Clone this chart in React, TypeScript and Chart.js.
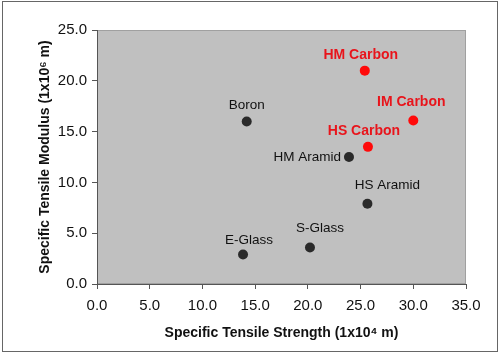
import React, { useEffect, useRef } from "react";
import { Chart, registerables } from "chart.js";

Chart.register(...registerables);

const materials = ["HM Carbon", "IM Carbon", "HS Carbon", "HM Aramid", "Boron", "HS Aramid", "S-Glass", "E-Glass"];
const strength = [25.4, 30.0, 25.7, 23.9, 14.2, 25.65, 20.2, 13.85];
const modulus = [21.0, 16.1, 13.5, 12.5, 16.0, 7.9, 3.6, 2.9];
const isCarbon = [true, true, true, false, false, false, false, false];
// label placement relative to the point (px): [dx, dy, align]
const labelPlacement: [number, number, CanvasTextAlign][] = [
  [-4, -15, "center"],
  [-2, -18, "center"],
  [-4, -16, "center"],
  [-8, 0, "right"],
  [0, -16, "center"],
  [20, -18, "center"],
  [10, -19, "center"],
  [6, -14, "center"],
];
const xTicksMax = 35;
const yTicksMax = 25;

const RED = "#e8141b";
const DARK = "#2a2a2a";
const FAMILY = "Arial, 'Liberation Sans', sans-serif";

const bgPlugin = {
  id: "plotBg",
  beforeDraw(chart: any) {
    const { ctx, chartArea } = chart;
    ctx.save();
    ctx.fillStyle = "#c0c0c0";
    ctx.fillRect(chartArea.left, chartArea.top, chartArea.right - chartArea.left, chartArea.bottom - chartArea.top);
    ctx.strokeStyle = "#a0a0a0";
    ctx.lineWidth = 1;
    ctx.strokeRect(chartArea.left + 0.5, chartArea.top + 0.5, chartArea.right - chartArea.left - 1, chartArea.bottom - chartArea.top - 1);
    ctx.restore();
  },
};

const labelPlugin = {
  id: "pointLabels",
  afterDatasetsDraw(chart: any) {
    const { ctx } = chart;
    const meta = chart.getDatasetMeta(0);
    ctx.save();
    ctx.textBaseline = "middle";
    meta.data.forEach((el: any, i: number) => {
      const [dx, dy, align] = labelPlacement[i];
      ctx.textAlign = align;
      if (isCarbon[i]) {
        ctx.font = `bold 14px ${FAMILY}`;
        ctx.fillStyle = RED;
      } else {
        ctx.font = `13.5px ${FAMILY}`;
        ctx.fillStyle = "#111";
      }
      ctx.fillText(materials[i], el.x + dx, el.y + dy);
    });
    ctx.restore();
  },
};

export default function App() {
  const ref = useRef<HTMLCanvasElement>(null);
  useEffect(() => {
    if (!ref.current) return;
    const font = { family: FAMILY, size: 15 };
    const titleFont = { family: FAMILY, size: 14, weight: "bold" as const };
    const chart = new Chart(ref.current, {
      type: "scatter",
      data: {
        datasets: [
          {
            label: "Materials",
            data: strength.map((x, i) => ({ x, y: modulus[i] })),
            pointRadius: 5,
            pointHoverRadius: 5,
            pointBackgroundColor: isCarbon.map((c) => (c ? "#ff0a0a" : DARK)),
            pointBorderColor: isCarbon.map((c) => (c ? "#ff0a0a" : DARK)),
            pointBorderWidth: 0,
          },
        ],
      },
      options: {
        animation: false,
        responsive: true,
        maintainAspectRatio: false,
        layout: { padding: { left: 0, top: 30, right: 34, bottom: 0 } },
        plugins: { legend: { display: false }, tooltip: { enabled: false } },
        scales: {
          x: {
            type: "linear",
            min: 0,
            max: xTicksMax,
            ticks: {
              stepSize: 5,
              color: "#111",
              font,
              padding: 8,
              callback: (v: any) => Number(v).toFixed(1),
            },
            grid: { drawOnChartArea: false, drawTicks: true, tickLength: 5, color: "#555" },
            border: { color: "#555", width: 1 },
            title: {
              display: true,
              text: "Specific Tensile Strength (1x10⁴ m)",
              color: "#111",
              font: titleFont,
              padding: { top: 0, bottom: 13 },
            },
            afterFit: (s: any) => {
              s.height = 71;
            },
          },
          y: {
            type: "linear",
            min: 0,
            max: yTicksMax,
            ticks: {
              stepSize: 5,
              color: "#111",
              font,
              padding: 5,
              callback: (v: any) => Number(v).toFixed(1),
            },
            grid: { drawOnChartArea: false, drawTicks: true, tickLength: 5, color: "#555" },
            border: { color: "#555", width: 1 },
            title: {
              display: true,
              text: "Specific Tensile Modulus (1x10⁶ m)",
              color: "#111",
              font: titleFont,
              padding: { top: 37, bottom: 0 },
            },
            afterFit: (s: any) => {
              s.width = 97;
            },
          },
        },
      },
      plugins: [bgPlugin, labelPlugin],
    });
    return () => chart.destroy();
  }, []);

  return (
    <div style={{ position: "fixed", left: 0, top: 0, width: 500, height: 355, background: "#fff" }}>
      <div
        style={{
          position: "absolute",
          left: 2,
          top: 1,
          width: 494,
          height: 349,
          border: "1px solid #666",
          pointerEvents: "none",
        }}
      />
      <div style={{ position: "absolute", left: 0, top: 0, width: 500, height: 355 }}>
        <canvas ref={ref} />
      </div>
    </div>
  );
}
